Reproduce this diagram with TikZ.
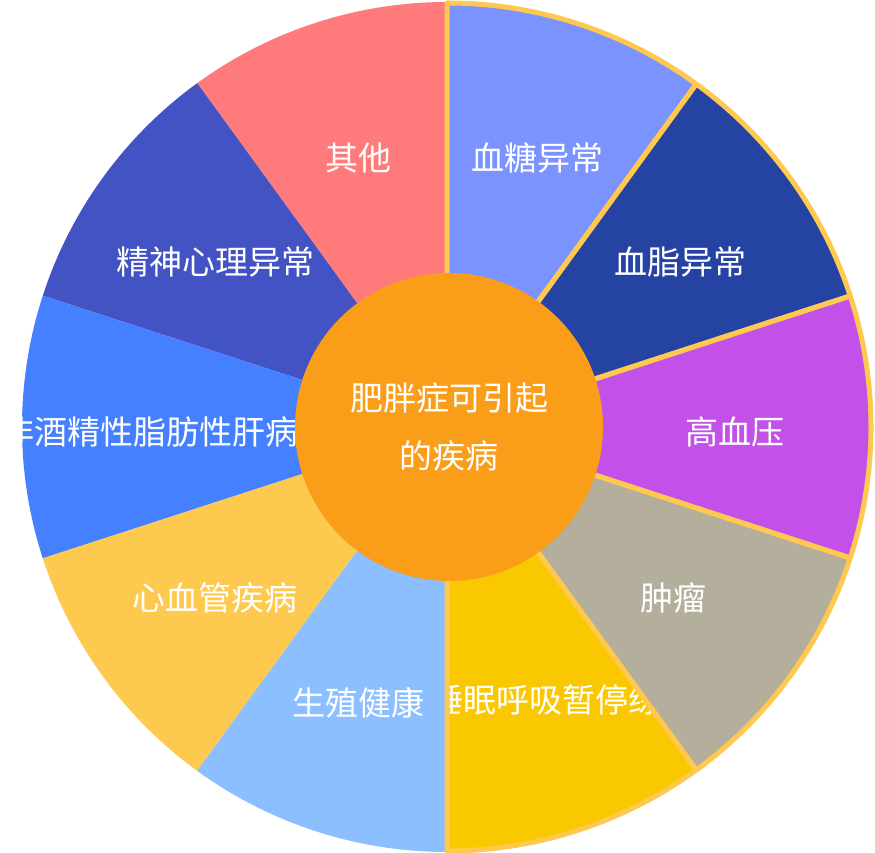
\documentclass[tikz,border=0pt]{standalone}
\usepackage{fontspec}
\setmainfont{Noto Sans CJK SC}
\definecolor{cOther}{HTML}{FF7B7B}
\definecolor{cMind}{HTML}{4353C4}
\definecolor{cLiver}{HTML}{4480FF}
\definecolor{cHeart}{HTML}{FDC94F}
\definecolor{cRepro}{HTML}{8CBFFF}
\definecolor{cSleep}{HTML}{F9C800}
\definecolor{cTumor}{HTML}{B4AE9C}
\definecolor{cPress}{HTML}{C350E8}
\definecolor{cLipid}{HTML}{2443A3}
\definecolor{cSugar}{HTML}{7B93FF}
\definecolor{cEdge}{HTML}{FFC94F}
\definecolor{cCore}{HTML}{FA9E1A}
\begin{document}
\begin{tikzpicture}[x=1pt,y=1pt]
\tikzstyle{lbl} = [text=white,font=\fontsize{33}{40}\selectfont,inner sep=0pt]
\useasboundingbox (0,0) rectangle (875,853);
\coordinate (O) at (447,426);

% sectors: start angle / colour / label / label position / name
\foreach \a/\c/\t/\p/\n in {90/cOther/其他/{(358,695)}/other,
    126/cMind/精神心理异常/{(215,591)}/mind,
    162/cLiver/非酒精性脂肪性肝病/{(150,421)}/liver,
    198/cHeart/心血管疾病/{(215,255)}/heart,
    234/cRepro/生殖健康/{(358,150)}/repro,
    270/cSleep/睡眠呼吸暂停综合征/{(579,153)}/sleep,
    306/cTumor/{\pgftransformxslant{0.25}肿瘤}/{(673,255)}/tumor,
    342/cPress/高血压/{(735,421)}/press,
    18/cLipid/血脂异常/{(680,591)}/lipid,
    54/cSugar/血糖异常/{(537,695)}/sugar} {
  \begin{scope}
    \clip (O) -- ++(\a:425) arc[start angle=\a,delta angle=36,radius=425] -- cycle;
    \fill[\c] (O) circle (430);
    \node[lbl] (\n) at \p {\t};
  \end{scope}
}

% yellow borders on the right half
\foreach \a in {270,306,342,18,54} {
  \draw[cEdge,line width=5pt,line join=round]
    (O) -- ++(\a:424) arc[start angle=\a,delta angle=36,radius=424] -- cycle;
}

% centre
\node[circle,fill=cCore,minimum size=308pt,inner sep=0pt,text=white,
  font=\fontsize{33}{58}\selectfont,align=center] (core) at (449,426)
  {肥胖症可引起\\的疾病};
\end{tikzpicture}
\end{document}
